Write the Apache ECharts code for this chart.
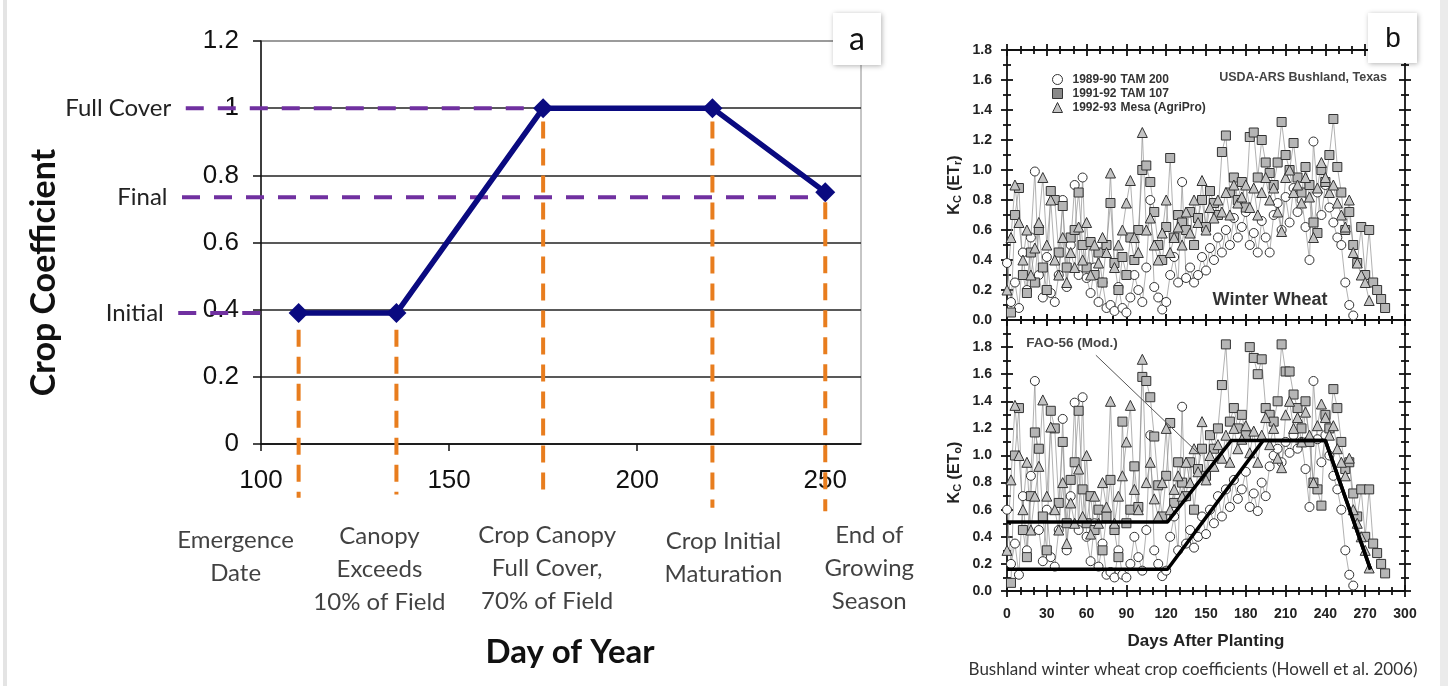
<!DOCTYPE html>
<html>
<head>
<meta charset="utf-8">
<title>Crop coefficient curves</title>
<script src="https://cdn.jsdelivr.net/npm/echarts@6/dist/echarts.min.js"></script>
<style>
  html, body { margin: 0; padding: 0; background: #fff; }
  #main { width: 1448px; height: 686px; }
</style>
</head>
<body>
<div id="main"></div>
<script>
// ---- panel a: idealised crop coefficient curve ----
const stageDays = [110, 136, 175, 220, 250];
const kcValues = [0.39, 0.39, 1.0, 1.0, 0.75];
const stageLabels = ['Emergence\nDate', 'Canopy\nExceeds\n10% of Field', 'Crop Canopy\nFull Cover,\n70% of Field', 'Crop Initial\nMaturation', 'End of\nGrowing\nSeason'];
const guideTop = [0.34, 0.34, 0.96, 0.96, 0.72];
const guideBottom = [-0.16, -0.15, -0.16, -0.19, -0.2];
const levelNames = ['Full Cover', 'Final', 'Initial'];
const levelValues = [1.0, 0.735, 0.39];
const levelStart = [80, 79, 78];
const levelEnd = [170, 248, 103];

// ---- panel b: Bushland winter wheat (every 3rd day) ----
const seriesNames = ['1989-90 TAM 200', '1991-92 TAM 107', '1992-93 Mesa (AgriPro)'];
const daysB = [0,3,6,9,12,15,18,21,24,27,30,33,36,39,42,45,48,51,54,57,60,63,66,69,72,75,78,81,84,87,90,93,96,99,102,105,108,111,114,117,120,123,126,129,132,135,138,141,144,147,150,153,156,159,162,165,168,171,174,177,180,183,186,189,192,195,198,201,204,207,210,213,216,219,222,225,228,231,234,237,240,243,246,249,252,255,258,261,264,267,270,273,276,279,282,285];

// Kc based on ETr (upper plot)
const circEtr = [0.38,0.12,0.25,0.08,0.45,0.2,0.55,0.99,0.3,0.15,
  0.42,0.18,0.12,0.3,0.8,0.22,0.5,0.9,0.3,0.95,
  0.28,0.18,0.35,0.12,0.25,0.08,0.1,0.06,0.22,0.08,
  0.05,0.15,0.3,0.2,0.12,0.35,0.8,0.22,0.15,0.07,
  0.12,0.3,0.42,0.25,0.92,0.28,0.35,0.25,0.3,0.42,
  0.33,0.48,0.4,0.55,0.45,0.6,0.5,0.68,0.55,0.62,
  0.72,0.5,0.58,0.45,0.66,0.55,0.45,0.7,0.78,0.6,
  0.82,0.65,0.88,0.72,0.8,0.62,0.4,1.19,0.85,0.7,
  0.9,0.75,0.65,0.55,0.5,0.25,0.1,0.03];
const sqEtr = [null,0.05,0.7,0.88,0.3,0.18,0.45,0.25,0.6,0.35,
  0.2,0.86,0.8,0.45,0.76,0.35,0.55,0.6,0.85,0.5,
  0.35,0.52,0.3,0.45,0.25,0.5,0.78,0.38,0.2,0.42,
  0.3,0.55,0.4,0.6,1.0,1.03,0.92,0.72,0.5,0.4,
  0.62,1.08,0.55,0.7,0.65,0.6,0.72,0.5,0.68,0.8,
  0.62,0.86,0.78,0.7,1.12,1.23,0.85,0.95,0.8,0.92,
  0.75,1.22,1.25,0.95,1.2,1.05,0.98,0.9,1.05,1.32,
  1.1,1.0,1.18,0.95,0.85,1.02,0.9,0.65,0.58,1.0,
  0.92,1.1,1.34,1.02,0.85,0.6,0.72,0.5,0.38,0.62,
  0.3,0.6,0.25,0.2,0.14,0.08];
const triEtr = [0.2,0.55,0.9,0.65,0.4,0.6,0.3,0.48,0.65,0.95,
  0.5,0.8,0.4,0.3,0.55,0.25,0.45,0.35,0.62,0.4,
  0.65,0.3,0.5,0.38,0.55,0.45,0.98,0.35,0.5,0.6,
  0.78,0.93,0.55,0.45,1.25,0.6,0.68,0.5,0.4,0.58,
  0.8,0.45,0.55,0.62,0.5,0.72,0.58,0.8,0.65,0.93,
  0.6,0.75,0.68,0.8,0.72,0.85,0.7,0.9,0.78,0.82,
  0.9,0.75,0.88,0.7,0.85,0.95,0.8,0.88,0.72,0.59,
  0.95,1.0,0.85,0.9,0.78,0.95,0.82,0.55,0.88,1.05,
  0.95,0.85,0.9,0.78,0.7,0.62,0.8,0.45,0.38,0.3,
  0.25,0.13];

// Kc based on ETo (lower plot)
const circEto = [0.6,0.2,0.35,0.12,0.7,0.3,0.85,1.55,0.45,0.22,
  0.6,0.25,0.18,0.45,1.27,0.3,0.7,1.39,0.45,1.43,
  0.4,0.22,0.5,0.18,0.35,0.12,0.14,0.1,0.3,0.12,
  0.1,0.2,0.4,0.25,0.15,0.45,1.15,0.3,0.2,0.11,
  0.15,0.4,0.55,0.3,1.36,0.35,0.45,0.32,0.4,0.55,
  0.42,0.6,0.5,0.7,0.55,0.75,0.62,0.82,0.68,0.75,
  0.88,0.62,0.72,0.59,0.8,0.7,0.92,1.0,1.05,0.95,
  1.1,1.02,1.15,1.05,1.1,0.9,0.62,1.55,1.12,0.95,
  1.15,1.0,0.85,0.75,0.6,0.3,0.12,0.04];
const sqEto = [null,0.06,1.0,1.35,0.45,0.25,0.7,1.17,1.05,0.55,
  0.3,1.33,1.2,0.65,1.1,0.5,0.82,0.95,1.33,0.75,
  0.5,0.7,0.45,0.6,0.3,0.55,0.82,0.45,0.25,1.25,
  0.5,0.6,0.92,0.62,1.58,1.55,1.43,1.14,0.78,0.55,
  0.85,1.24,0.65,0.95,0.8,0.7,0.95,0.6,0.9,1.05,
  0.85,1.15,1.05,1.2,1.52,1.82,1.25,1.35,1.2,1.3,
  1.15,1.8,1.72,1.6,1.71,1.35,1.3,1.25,1.4,1.82,
  1.62,1.62,1.45,1.35,1.2,1.4,1.1,0.8,0.75,0.63,
  1.3,1.2,1.49,1.35,1.1,0.9,0.95,0.72,0.55,0.75,
  0.4,0.75,0.35,0.28,0.2,0.13];
const triEto = [0.3,0.82,1.37,1.0,0.6,0.95,0.45,0.7,0.92,1.41,
  0.7,1.21,0.6,0.45,0.8,0.35,0.65,0.5,0.9,0.55,
  1.0,0.42,0.7,0.5,0.8,0.62,1.4,0.5,0.7,0.85,
  1.1,1.37,0.75,0.6,1.71,0.8,0.95,0.68,0.55,0.8,
  1.2,0.6,0.75,0.85,0.7,0.95,0.8,1.05,0.88,1.25,
  0.82,1.0,0.92,1.08,0.98,1.15,0.95,1.2,1.05,1.12,
  1.22,1.02,1.18,0.95,1.15,1.28,1.08,1.2,0.98,0.91,
  1.3,1.4,1.2,1.28,1.1,1.32,1.15,0.8,1.22,1.38,
  1.28,1.15,1.22,1.05,0.95,0.85,0.98,0.6,0.5,0.4,
  0.3,0.17];

// FAO-56 (modified) curves and the pointer to them
const faoDays1 = [0, 121, 169, 240, 274];
const faoKc1 = [0.51, 0.51, 1.11, 1.11, 0.16];
const faoDays2 = [0, 121, 193, 240, 274];
const faoKc2 = [0.16, 0.16, 1.11, 1.11, 0.16];
const leaderDays = [67, 146];
const leaderKc = [1.74, 1.0];

const FONT_C = 'Lato, "Open Sans", sans-serif';
const FONT_H = '"Liberation Sans", Arial, sans-serif';
const INK = '#111';
const W = 1448, H = 686;

const chart = echarts.init(document.getElementById('main'));

// panel a plot box and scales; the dashed guides run past it, so they live on an
// invisible full-page grid that uses the very same day / Kc scale
const gridA = {left: 261, top: 41, width: 600, height: 403};
const dayRangeA = [100, 259.5];
const kcRangeA = [0, 1.2];
const pxPerDay = gridA.width / (dayRangeA[1] - dayRangeA[0]);
const pxPerKc = gridA.height / (kcRangeA[1] - kcRangeA[0]);
const pageDayRange = [dayRangeA[0] - gridA.left / pxPerDay, dayRangeA[0] + (W - gridA.left) / pxPerDay];
const pageKcRange = [kcRangeA[0] - (H - gridA.top - gridA.height) / pxPerKc, kcRangeA[1] + gridA.top / pxPerKc];

// panel b frame axes: ticks cross the frame, so each side gets an outside and an inside copy
const tickStyle = {color: INK, width: 1.8};
function bx(grid, position, inside, extra) {
  return Object.assign({
    type: 'value', gridIndex: grid, position, min: 0, max: 300, interval: 30,
    axisLine: {show: !inside, onZero: false, lineStyle: {color: INK, width: 1.8}},
    axisTick: {show: true, inside, length: 6, lineStyle: tickStyle},
    minorTick: {show: true, splitNumber: 3, length: 4, lineStyle: tickStyle},
    axisLabel: {show: false},
    splitLine: {show: false}
  }, extra || {});
}
function by(grid, position, inside, max, extra) {
  return Object.assign({
    type: 'value', gridIndex: grid, position, min: 0, max, interval: 0.2,
    axisLine: {show: !inside, onZero: false, lineStyle: {color: INK, width: 1.8}},
    axisTick: {show: true, inside, length: 6, lineStyle: tickStyle},
    minorTick: {show: true, splitNumber: 2, length: 4, lineStyle: tickStyle},
    axisLabel: {show: false},
    splitLine: {show: false}
  }, extra || {});
}
const bLabel = {show: true, fontFamily: FONT_H, fontWeight: 'bold', fontSize: 14, color: '#222'};
function kcName(sub) {
  return '{k|K}{s|C}{k| (ET}{s|' + sub + '}{k|)}';
}
function kcNameStyle(pad) {
  return {
    fontFamily: FONT_H, fontWeight: 'bold', fontSize: 16, color: '#222', padding: pad,
    rich: {
      k: {fontFamily: FONT_H, fontWeight: 'bold', fontSize: 16, color: '#222'},
      s: {fontFamily: FONT_H, fontWeight: 'bold', fontSize: 11, color: '#222', verticalAlign: 'bottom', padding: [5, 0, 0, 0]}
    }
  };
}

function cloud(name, vals, symbol, size, fill, axis) {
  return {
    type: 'line', name, xAxisIndex: axis, yAxisIndex: axis,
    data: vals.map((v, i) => [daysB[i], v]),
    symbol, symbolSize: size, showAllSymbol: true, connectNulls: false,
    lineStyle: {color: '#8f8f8f', width: 0.7},
    itemStyle: {color: fill, borderColor: '#333', borderWidth: 1},
    z: 3
  };
}

const hidden = {color: 'rgba(0,0,0,0)', borderWidth: 0};
const PAGE = 9; // axis index of the invisible full-page grid

const option = {
  animation: false,
  backgroundColor: '#fff',
  grid: [
    Object.assign({show: true, borderColor: '#8c8c8c', borderWidth: 1}, gridA),
    {left: 1007, top: 50, width: 398, height: 270},
    {left: 1007, top: 320, width: 398, height: 271},
    {left: 0, top: 0, width: W, height: H}
  ],
  xAxis: [
    {
      type: 'value', gridIndex: 0, min: dayRangeA[0], max: dayRangeA[1], interval: 50,
      axisLine: {lineStyle: {color: INK, width: 1.5}},
      axisTick: {customValues: [100, 150, 200, 250], length: 7, lineStyle: {color: INK, width: 1.5}},
      axisLabel: {customValues: [100, 150, 200, 250], margin: 24, fontFamily: FONT_H, fontSize: 26, color: INK},
      splitLine: {show: false},
      name: 'Day of Year', nameLocation: 'middle', nameGap: 192,
      nameTextStyle: {fontFamily: FONT_C, fontWeight: 'bold', fontSize: 33, color: INK, padding: [0, 0, 0, 18]}
    },
    bx(1, 'bottom', false), bx(1, 'bottom', true), bx(1, 'top', false), bx(1, 'top', true),
    bx(2, 'bottom', false, {
      axisLabel: Object.assign({margin: 16}, bLabel),
      name: 'Days After Planting', nameLocation: 'middle', nameGap: 42,
      nameTextStyle: {fontFamily: FONT_H, fontWeight: 'bold', fontSize: 17, color: '#222'}
    }),
    bx(2, 'bottom', true), bx(2, 'top', false), bx(2, 'top', true),
    {type: 'value', gridIndex: 3, show: false, min: pageDayRange[0], max: pageDayRange[1]}
  ],
  yAxis: [
    {
      type: 'value', gridIndex: 0, min: kcRangeA[0], max: kcRangeA[1], interval: 0.2,
      axisLine: {show: true, lineStyle: {color: INK, width: 1.5}},
      axisTick: {show: true, length: 8, lineStyle: {color: INK, width: 1.5}},
      axisLabel: {margin: 22, fontFamily: FONT_H, fontSize: 26, color: INK},
      splitLine: {lineStyle: {color: ['#222', '#222', '#222', '#222', '#222', '#222', '#8c8c8c'], width: 1.5}},
      name: 'Crop Coefficient', nameLocation: 'middle', nameGap: 200, nameRotate: 90,
      nameTextStyle: {fontFamily: FONT_C, fontWeight: 'bold', fontSize: 34, color: INK, padding: [0, 60, 0, 0]}
    },
    by(1, 'left', false, 1.8, {
      axisLabel: Object.assign({margin: 15, formatter: v => v.toFixed(1)}, bLabel),
      name: kcName('r'), nameLocation: 'middle', nameGap: 44, nameRotate: 90,
      nameTextStyle: kcNameStyle([0, 0, 0, 0])
    }),
    by(1, 'left', true, 1.8), by(1, 'right', false, 1.8), by(1, 'right', true, 1.8),
    by(2, 'left', false, 2.0, {
      axisLabel: Object.assign({margin: 15, showMaxLabel: false, formatter: v => v.toFixed(1)}, bLabel),
      name: kcName('o'), nameLocation: 'middle', nameGap: 44, nameRotate: 90,
      nameTextStyle: kcNameStyle([0, 34, 0, 0])
    }),
    by(2, 'left', true, 2.0), by(2, 'right', false, 2.0), by(2, 'right', true, 2.0),
    {type: 'value', gridIndex: 3, show: false, min: pageKcRange[0], max: pageKcRange[1]}
  ],
  legend: {
    orient: 'vertical', left: 1047, top: 68,
    itemWidth: 10, itemHeight: 10, itemGap: 1,
    selectedMode: false,
    formatter: n => {
      const k = n.indexOf(' ');
      return '{y|' + n.slice(0, k) + '}{v|' + n.slice(k + 1) + '}';
    },
    textStyle: {
      fontFamily: FONT_H, fontWeight: 'bold', fontSize: 12, color: '#333', lineHeight: 13,
      rich: {
        y: {fontFamily: FONT_H, fontWeight: 'bold', fontSize: 12, color: '#333', width: 48, padding: [0, 0, 0, 5]},
        v: {fontFamily: FONT_H, fontWeight: 'bold', fontSize: 12, color: '#333'}
      }
    },
    data: [
      {name: seriesNames[0], icon: 'circle', itemStyle: {color: '#fff', borderColor: '#333', borderWidth: 1}},
      {name: seriesNames[1], icon: 'rect', itemStyle: {color: '#8a8a8a', borderColor: '#333', borderWidth: 1}},
      {name: seriesNames[2], icon: 'triangle', itemStyle: {color: '#c4c4c4', borderColor: '#333', borderWidth: 1}}
    ]
  },
  graphic: [
    {type: 'rect', shape: {x: 3, y: 0, width: 4, height: H}, style: {fill: '#e4e4e4'}, silent: true},
    {type: 'rect', shape: {x: 1440, y: 0, width: 8, height: H}, style: {fill: '#ebebeb'}, silent: true},
    {type: 'rect', z: 100, shape: {x: 833, y: 13, width: 48, height: 52},
      style: {fill: '#fff', shadowBlur: 5, shadowColor: 'rgba(0,0,0,0.3)', shadowOffsetX: 1, shadowOffsetY: 1}},
    {type: 'text', z: 101, style: {text: 'a', x: 857, y: 40, align: 'center', verticalAlign: 'middle', font: '32px ' + FONT_C, fill: INK}},
    {type: 'rect', z: 100, shape: {x: 1368, y: 13, width: 49, height: 50},
      style: {fill: '#fff', shadowBlur: 5, shadowColor: 'rgba(0,0,0,0.3)', shadowOffsetX: 1, shadowOffsetY: 1}},
    {type: 'text', z: 101, style: {text: 'b', x: 1393, y: 39, align: 'center', verticalAlign: 'middle', font: '28px ' + FONT_H, fill: INK}},
    {type: 'text', z: 50, style: {text: 'USDA-ARS Bushland, Texas', x: 1387, y: 78, align: 'right', verticalAlign: 'middle', font: 'bold 12.5px ' + FONT_H, fill: '#444'}},
    {type: 'text', z: 50, style: {text: 'Winter Wheat', x: 1270, y: 300, align: 'center', verticalAlign: 'middle', font: 'bold 18px ' + FONT_H, fill: '#333'}},
    {type: 'text', z: 50, style: {text: 'Bushland winter wheat crop coefficients (Howell et al. 2006)', x: 1193, y: 670, align: 'center', verticalAlign: 'middle', font: '17px ' + FONT_C, fill: '#333'}}
  ],
  series: [
    // purple reference levels with their names on the left
    ...levelNames.map((n, i) => ({
      type: 'line', xAxisIndex: PAGE, yAxisIndex: PAGE, z: 4,
      symbol: 'circle', symbolSize: 1, itemStyle: hidden,
      lineStyle: {color: '#7030a0', width: 4, type: [18, 14]},
      data: [
        {value: [levelStart[i], levelValues[i]],
          label: {show: true, position: 'left', distance: 14, formatter: n, fontFamily: FONT_C, fontSize: 24, color: '#222'}},
        [levelEnd[i], levelValues[i]]
      ]
    })),
    // orange stage guides
    ...stageDays.map((d, i) => ({
      type: 'line', xAxisIndex: PAGE, yAxisIndex: PAGE, z: 3, symbol: 'none',
      lineStyle: {color: '#e87d1e', width: 4, type: [17, 10]},
      data: [[d, guideTop[i]], [d, guideBottom[i]]]
    })),
    {
      type: 'scatter', xAxisIndex: PAGE, yAxisIndex: PAGE, symbolSize: 1, itemStyle: hidden,
      data: stageDays.map((d, i) => ({value: [d, guideBottom[i]]})),
      label: {
        show: true, position: 'bottom', distance: 0,
        formatter: p => stageLabels[p.dataIndex],
        fontFamily: FONT_C, fontSize: 24, lineHeight: 33, color: INK, align: 'center'
      },
      labelLayout: p => ({dx: [-63, -17, 4, 11, 44][p.dataIndex], dy: [26, 25, 21, 16, 7][p.dataIndex]})
    },
    {
      type: 'line', xAxisIndex: 0, yAxisIndex: 0, z: 6,
      symbol: 'diamond', symbolSize: 20,
      lineStyle: {color: '#0a0a80', width: 5.5},
      itemStyle: {color: '#0a0a80'},
      data: stageDays.map((d, i) => [d, kcValues[i]])
    },
    // panel b point clouds
    cloud(seriesNames[0], circEtr, 'circle', 9, '#fff', 1),
    cloud(seriesNames[1], sqEtr, 'rect', 9, '#b5b5b5', 1),
    cloud(seriesNames[2], triEtr, 'triangle', 10, '#c4c4c4', 1),
    cloud(seriesNames[0], circEto, 'circle', 9, '#fff', 5),
    cloud(seriesNames[1], sqEto, 'rect', 9, '#b5b5b5', 5),
    cloud(seriesNames[2], triEto, 'triangle', 10, '#c4c4c4', 5),
    {
      type: 'line', xAxisIndex: 5, yAxisIndex: 5, z: 10, symbol: 'none',
      lineStyle: {color: '#000', width: 3.5},
      data: faoDays1.map((d, i) => [d, faoKc1[i]])
    },
    {
      type: 'line', xAxisIndex: 5, yAxisIndex: 5, z: 10, symbol: 'none',
      lineStyle: {color: '#000', width: 3.5},
      data: faoDays2.map((d, i) => [d, faoKc2[i]])
    },
    {
      type: 'line', xAxisIndex: 5, yAxisIndex: 5, z: 10,
      symbol: 'circle', symbolSize: 1, itemStyle: hidden,
      lineStyle: {color: '#555', width: 1},
      data: [
        {value: [leaderDays[0], leaderKc[0]],
          label: {show: true, position: 'top', distance: 4, offset: [-24, 0], formatter: 'FAO-56 (Mod.)',
            fontFamily: FONT_H, fontWeight: 'bold', fontSize: 13.5, color: '#444'}},
        [leaderDays[1], leaderKc[1]]
      ]
    }
  ]
};

chart.setOption(option);
window.addEventListener('resize', () => chart.resize());
</script>
</body>
</html>
